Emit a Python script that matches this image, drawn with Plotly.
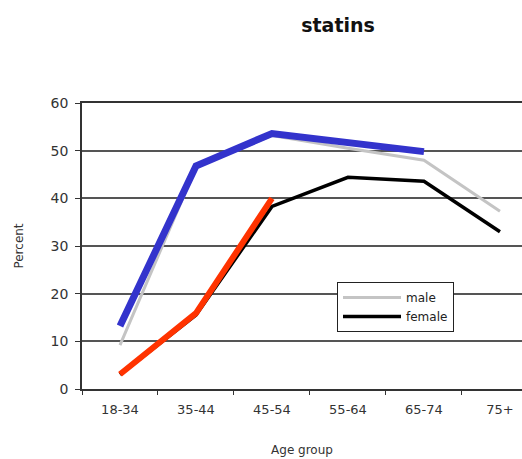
import plotly.graph_objects as go

age_groups = ["18-34", "35-44", "45-54", "55-64", "65-74", "75+"]
male = [9.2, 46.5, 53.2, 50.5, 48.0, 37.3]
female = [3.0, 15.5, 38.3, 44.4, 43.6, 33.0]
blue_overlay = [13.2, 46.8, 53.6, 51.7, 49.8, None]
red_overlay = [3.1, 15.9, 40.0, None, None, None]

FONT = "DejaVu Sans, Verdana, sans-serif"

fig = go.Figure()
fig.add_trace(go.Scatter(x=age_groups, y=male, mode="lines", name="male",
                         line=dict(color="#c4c4c4", width=3)))
fig.add_trace(go.Scatter(x=age_groups, y=female, mode="lines", name="female",
                         line=dict(color="#000000", width=3.5)))
fig.add_trace(go.Scatter(x=age_groups, y=blue_overlay, mode="lines", showlegend=False,
                         line=dict(color="#3333cc", width=7)))
fig.add_trace(go.Scatter(x=age_groups, y=red_overlay, mode="lines", showlegend=False,
                         line=dict(color="#ff3300", width=6)))

fig.update_layout(
    width=522, height=459,
    margin=dict(l=82, r=0, t=103, b=70),
    paper_bgcolor="white", plot_bgcolor="white",
    font=dict(family=FONT, color="#222222"),
    title=dict(text="<b>statins</b>", x=338/522, xanchor="center", y=1-25/459, yanchor="middle",
               font=dict(size=19, family=FONT, color="#111111")),
    legend=dict(x=(337-82)/440, y=(389-282)/286, xanchor="left", yanchor="top",
                bordercolor="#222222", borderwidth=1, bgcolor="white",
                font=dict(size=12, family=FONT, color="#222222"),
                itemwidth=58, tracegroupgap=0),
    showlegend=True,
)
fig.update_xaxes(
    type="category", range=[-0.5, 5.29], showgrid=False,
    showline=True, linecolor="#333333", linewidth=1.5, mirror=True,
    ticks="outside", tickson="boundaries", ticklen=4, tickcolor="#333333",
    tickfont=dict(size=13, color="#333333"), ticklabelstandoff=8,
    title=dict(text="Age group", font=dict(size=12, color="#333333"), standoff=29),
)
fig.update_yaxes(
    range=[0, 60], dtick=10, showgrid=True, gridcolor="#555555", gridwidth=1.8,
    showline=True, linecolor="#333333", linewidth=1.5, zeroline=False,
    ticks="outside", ticklen=5, tickcolor="#333333",
    tickfont=dict(size=14, color="#333333"), ticklabelstandoff=4,
    title=dict(text="Percent", font=dict(size=12, color="#333333"), standoff=24),
)
fig.write_html("out.html")
